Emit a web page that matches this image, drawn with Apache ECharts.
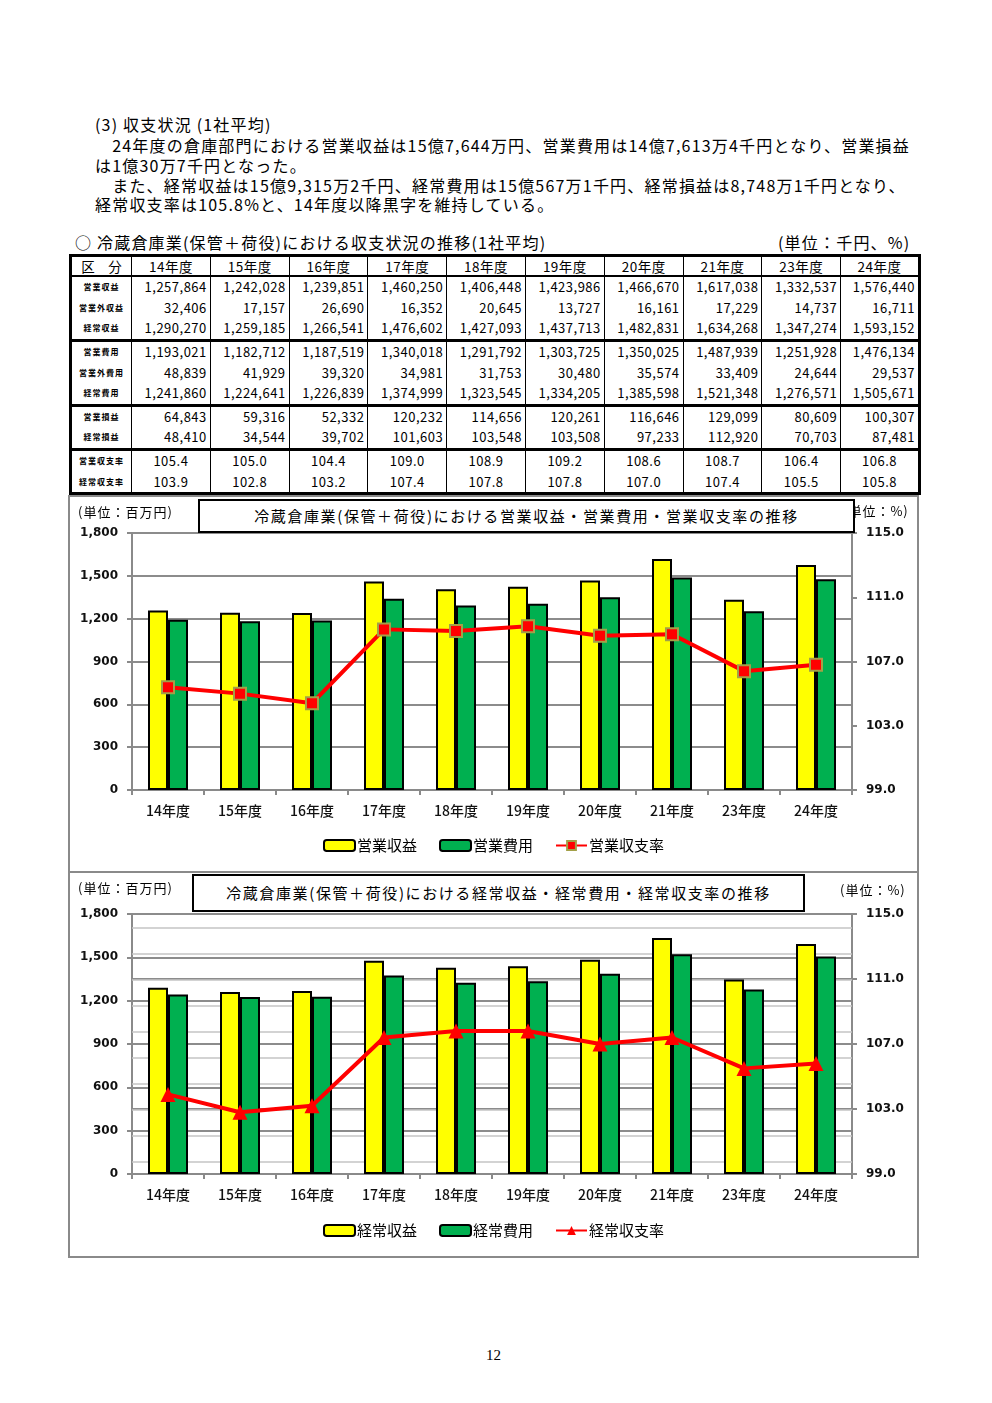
<!DOCTYPE html>
<html><head><meta charset="utf-8">
<script src="https://cdn.jsdelivr.net/npm/echarts@6/dist/echarts.min.js"></script>
<style>
html,body{margin:0;padding:0;background:#fff;}
body{width:992px;height:1403px;position:relative;overflow:hidden;font-family:"Noto Sans CJK JP",sans-serif;color:#000;}
.t{position:absolute;white-space:nowrap;font-size:16px;line-height:20px;letter-spacing:1.2px;}
table.d{position:absolute;left:69px;top:254px;width:852px;border-collapse:collapse;table-layout:fixed;border:3px solid #000;}
table.d td{border-left:1.5px solid #000;border-right:1.5px solid #000;padding:0 3px 0 0;font-size:13px;letter-spacing:0.5px;text-align:right;height:20.6px;line-height:20px;white-space:nowrap;overflow:hidden;}
table.d tr.h td{text-align:center;font-size:13.5px;border-bottom:2px solid #000;height:18px;line-height:18px;padding:0;}
table.d tr.g td{border-top:3px solid #000;}
table.d td.lab{text-align:center;font-size:8px;font-weight:bold;letter-spacing:1px;padding:0;}
table.d tr.h td.lab{font-size:13.5px;font-weight:normal;letter-spacing:0;}
table.d td.r{text-align:center;padding:0;}
.frame{position:absolute;border:2px solid #8a8a8a;box-sizing:border-box;}
.chart{position:absolute;}
.tbox{position:absolute;border:2.5px solid #000;background:#fff;box-sizing:border-box;text-align:center;font-size:15px;letter-spacing:1.6px;white-space:nowrap;z-index:5;}
.unit{position:absolute;font-size:13px;letter-spacing:1px;white-space:nowrap;z-index:4;line-height:16px;}
</style></head>
<body>
<div class="t" style="left:95px;top:114px;">(3) 収支状況 (1社平均)</div>
<div class="t" style="left:95px;top:135px;">　24年度の倉庫部門における営業収益は15億7,644万円、営業費用は14億7,613万4千円となり、営業損益</div>
<div class="t" style="left:95px;top:155px;">は1億30万7千円となった。</div>
<div class="t" style="left:95px;top:175px;">　また、経常収益は15億9,315万2千円、経常費用は15億567万1千円、経常損益は8,748万1千円となり、</div>
<div class="t" style="left:95px;top:194px;">経常収支率は105.8%と、14年度以降黒字を維持している。</div>
<div class="t" style="left:75px;top:232px;">○ 冷蔵倉庫業(保管＋荷役)における収支状況の推移(1社平均)</div>
<div class="t" style="left:778px;top:232px;">(単位：千円、%)</div>
<table class="d" id="tbl"></table>

<div class="frame" style="left:68px;top:495px;width:851px;height:378px;"></div>
<div class="frame" style="left:68px;top:871px;width:851px;height:387px;"></div>
<div class="chart" id="c1" style="left:70px;top:497px;width:847px;height:372px;"></div>
<div class="chart" id="c2" style="left:70px;top:873px;width:847px;height:383px;"></div>

<div class="unit" style="left:78px;top:504px;">(単位：百万円)</div>
<div class="unit" style="left:843px;top:503px;">(単位：%)</div>
<div class="tbox" style="left:198px;top:499px;width:657px;height:34px;line-height:29px;">冷蔵倉庫業(保管＋荷役)における営業収益・営業費用・営業収支率の推移</div>

<div class="unit" style="left:78px;top:880px;">(単位：百万円)</div>
<div class="unit" style="left:840px;top:882px;">(単位：%)</div>
<div class="tbox" style="left:192px;top:874px;width:613px;height:38px;line-height:33px;">冷蔵倉庫業(保管＋荷役)における経常収益・経常費用・経常収支率の推移</div>

<div class="t" style="left:486px;top:1345px;font-family:'Liberation Serif',serif;font-size:15px;letter-spacing:0;">12</div>

<script>
const years = ['14年度','15年度','16年度','17年度','18年度','19年度','20年度','21年度','23年度','24年度'];
const opRevenue    = [1257864,1242028,1239851,1460250,1406448,1423986,1466670,1617038,1332537,1576440];
const nonOpRevenue = [32406,17157,26690,16352,20645,13727,16161,17229,14737,16711];
const ordRevenue   = [1290270,1259185,1266541,1476602,1427093,1437713,1482831,1634268,1347274,1593152];
const opCost       = [1193021,1182712,1187519,1340018,1291792,1303725,1350025,1487939,1251928,1476134];
const nonOpCost    = [48839,41929,39320,34981,31753,30480,35574,33409,24644,29537];
const ordCost      = [1241860,1224641,1226839,1374999,1323545,1334205,1385598,1521348,1276571,1505671];
const opProfit     = [64843,59316,52332,120232,114656,120261,116646,129099,80609,100307];
const ordProfit    = [48410,34544,39702,101603,103548,103508,97233,112920,70703,87481];
const opRatio      = [105.4,105.0,104.4,109.0,108.9,109.2,108.6,108.7,106.4,106.8];
const ordRatio     = [103.9,102.8,103.2,107.4,107.8,107.8,107.0,107.4,105.5,105.8];
const amountAxis   = [0,1800,300];   // min, max, step (百万円)
const ratioAxis    = [99,115,4];     // min, max, step (%)
const ordFaintGrid = [83,263,443,623,803,983,1163,1343,1523,1703];

// ---- table ----
const rows = [
  ['営業収益',opRevenue,false,false],['営業外収益',nonOpRevenue,false,false],['経常収益',ordRevenue,false,false],
  ['営業費用',opCost,true,false],['営業外費用',nonOpCost,false,false],['経常費用',ordCost,false,false],
  ['営業損益',opProfit,true,false],['経常損益',ordProfit,false,false],
  ['営業収支率',opRatio,true,true],['経常収支率',ordRatio,false,true]
];
let html = '<colgroup><col style="width:61px">' + years.map(()=>'<col>').join('') + '</colgroup>';
html += '<tr class="h"><td class="lab">区　分</td>' + years.map(y=>'<td>'+y+'</td>').join('') + '</tr>';
rows.forEach(r=>{
  html += '<tr' + (r[2]?' class="g"':'') + '><td class="lab">'+r[0]+'</td>' +
    r[1].map(v=>'<td'+(r[3]?' class="r"':'')+'>'+(r[3]?v.toFixed(1):v.toLocaleString('en-US'))+'</td>').join('') + '</tr>';
});
document.getElementById('tbl').innerHTML = html;

// ---- charts ----
const numFont = 'DejaVu Sans';
function makeOption(o){
  return {
    animation:false,
    grid:{left:62,top:o.top,width:720,height:o.height,containLabel:false},
    legend:{
      top:o.legendTop,left:'center',itemWidth:31,itemHeight:11,itemGap:22,
      textStyle:{fontFamily:'Noto Sans CJK JP',fontSize:15,color:'#000',padding:[0,0,0,-3]},
      data:[o.names[0],o.names[1],o.names[2]]
    },
    xAxis:{
      type:'category',data:years,
      axisLine:{lineStyle:{color:'#8a8a8a',width:2}},
      axisTick:{show:true,length:5,lineStyle:{color:'#8a8a8a',width:2}},
      axisLabel:{margin:14,fontFamily:'Noto Sans CJK JP',fontSize:14,fontWeight:500,color:'#111'}
    },
    yAxis:[{
      type:'value',min:amountAxis[0],max:amountAxis[1],interval:amountAxis[2],
      axisLine:{show:true,lineStyle:{color:'#8a8a8a',width:2}},
      axisTick:{show:true,length:5,lineStyle:{color:'#8a8a8a',width:2}},
      axisLabel:{margin:14,fontFamily:numFont,fontSize:12,fontWeight:'bold',color:'#111',
        formatter:v=>v.toLocaleString('en-US')},
      splitLine:{show:true,lineStyle:{color:'#8c8c8c',width:2}}
    },{
      type:'value',min:ratioAxis[0],max:ratioAxis[1],interval:ratioAxis[2],position:'right',
      axisLine:{show:true,lineStyle:{color:'#8a8a8a',width:2}},
      axisTick:{show:true,length:5,lineStyle:{color:'#8a8a8a',width:2}},
      axisLabel:{margin:14,fontFamily:numFont,fontSize:12,fontWeight:'bold',color:'#111',
        formatter:v=>v.toFixed(1)},
      splitLine:{show:o.rightSplit,lineStyle:{color:'#8c8c8c',width:2}}
    }],
    series:[{
      name:o.names[0],type:'bar',data:o.rev.map(v=>v/1000),barWidth:20,barGap:'0%',
      itemStyle:{color:'#FFFF00',borderColor:'#000',borderWidth:2},
      markLine:o.faint?{silent:true,symbol:'none',z:1,label:{show:false},
        lineStyle:{color:'#c4c4c4',width:1.5,type:'solid'},
        data:o.faint.map(v=>({yAxis:v}))}:undefined
    },{
      name:o.names[1],type:'bar',data:o.cost.map(v=>v/1000),barWidth:20,barGap:'0%',
      itemStyle:{color:'#00B050',borderColor:'#000',borderWidth:2}
    },{
      name:o.names[2],type:'line',yAxisIndex:1,data:o.ratio,
      symbol:o.symbol,symbolSize:o.symbolSize,
      lineStyle:{color:'#FF0000',width:4},
      itemStyle:{color:'#FF0000',borderColor:o.symbolBorder,borderWidth:o.symbolBorder?2:0},
      z:5
    }]
  };
}
const c1 = echarts.init(document.getElementById('c1'),null,{renderer:'canvas'});
c1.setOption(makeOption({top:36,height:257,legendTop:336,rightSplit:false,
  names:['営業収益','営業費用','営業収支率'],rev:opRevenue,cost:opCost,ratio:opRatio,
  symbol:'rect',symbolSize:12,symbolBorder:'#a3a048'}));
const c2 = echarts.init(document.getElementById('c2'),null,{renderer:'canvas'});
c2.setOption(makeOption({top:41,height:260,legendTop:345,rightSplit:true,faint:ordFaintGrid,
  names:['経常収益','経常費用','経常収支率'],rev:ordRevenue,cost:ordCost,ratio:ordRatio,
  symbol:'triangle',symbolSize:15,symbolBorder:null}));
</script>
</body></html>
